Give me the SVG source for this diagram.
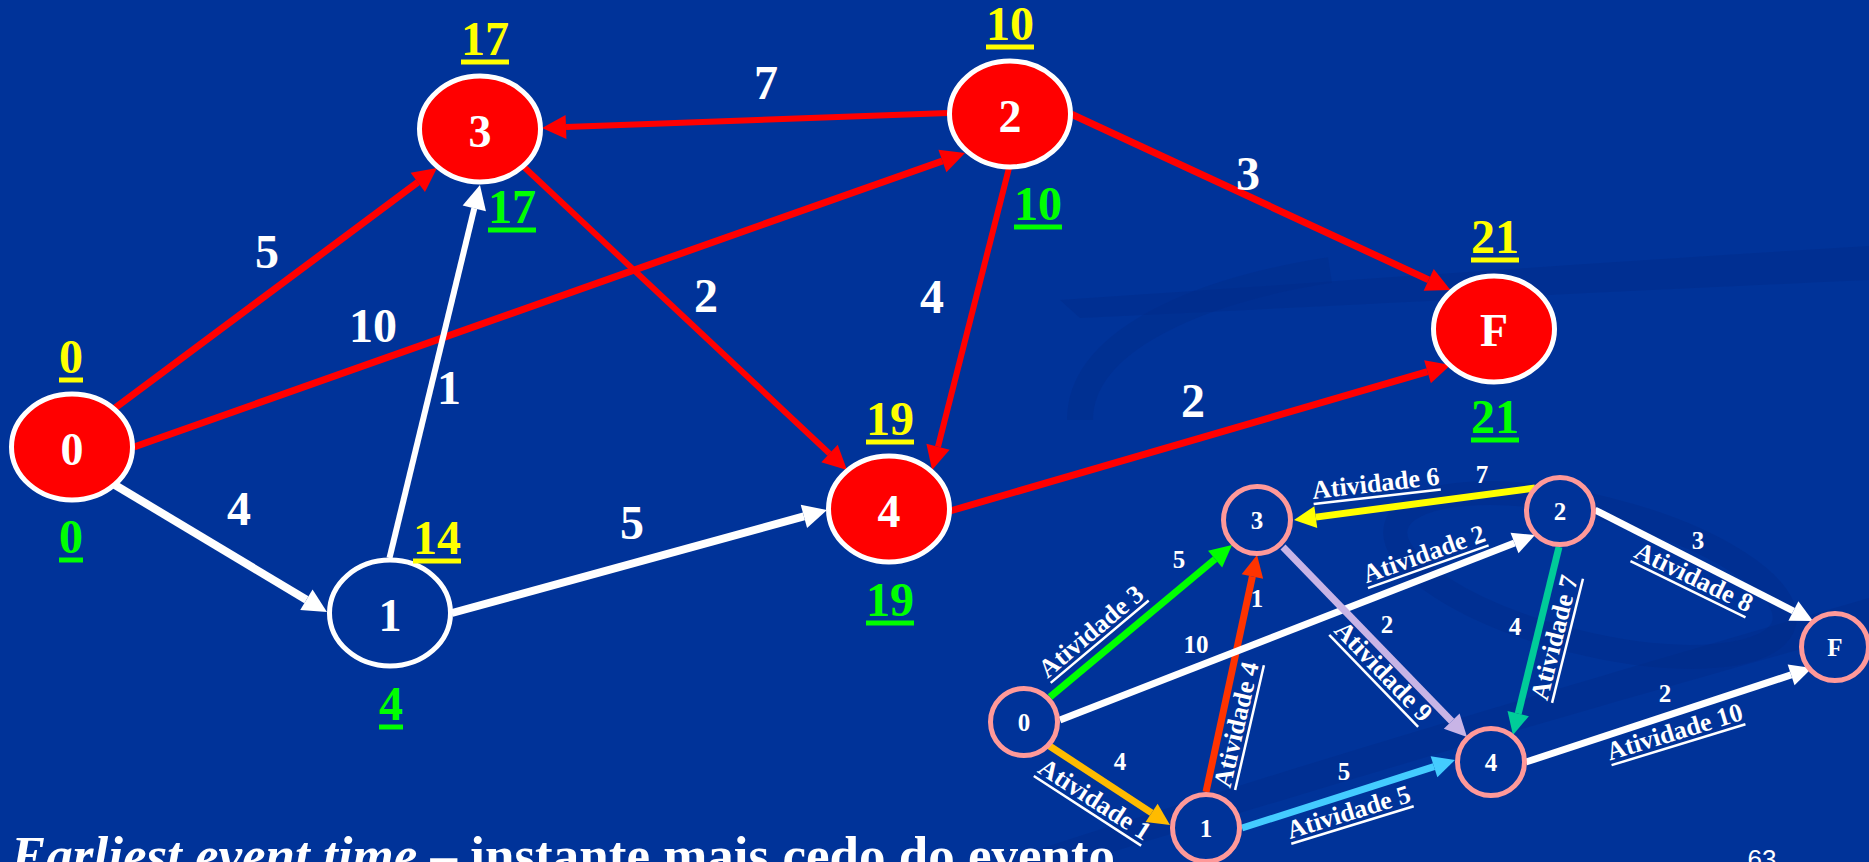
<svg xmlns="http://www.w3.org/2000/svg" width="1869" height="862" viewBox="0 0 1869 862">
<defs>
<style>
.t{font-family:"Liberation Serif","Times New Roman",serif;font-weight:bold;text-anchor:middle}
.big{font-size:48px}
.nl{font-size:46px;fill:#FFFFFF}
.el{font-size:48px;fill:#FFFFFF}
.yl{fill:#FFFF00}
.gl{fill:#00FF00}
.uy{stroke:#FFFF00;stroke-width:5}
.ug{stroke:#00FF00;stroke-width:5}
.nred{fill:#FF0000;stroke:#FFFFFF;stroke-width:5}
.nblue{fill:#003399;stroke:#FFFFFF;stroke-width:5}
.sn{fill:#003399;stroke:#FF9999;stroke-width:5}
.sl{font-size:25px;fill:#FFFFFF}
.act{font-size:26px;fill:#FFFFFF}
.au{stroke:#FFFFFF;stroke-width:2.5}
.e{fill:none}
.swoosh{fill:#002B86;opacity:0.4}
</style>
<marker id="mRed" markerUnits="userSpaceOnUse" viewBox="0 -14 28 28" markerWidth="28" markerHeight="28" refX="0" refY="0" orient="auto" overflow="visible"><path d="M0,-12 L24,0 L0,12 Z" fill="#FF0000"/></marker>
<marker id="mWhite" markerUnits="userSpaceOnUse" viewBox="0 -14 28 28" markerWidth="28" markerHeight="28" refX="0" refY="0" orient="auto" overflow="visible"><path d="M0,-12 L24,0 L0,12 Z" fill="#FFFFFF"/></marker>
<marker id="sGreen" markerUnits="userSpaceOnUse" viewBox="0 -13 26 26" markerWidth="26" markerHeight="26" refX="0" refY="0" orient="auto" overflow="visible"><path d="M0,-11 L22,0 L0,11 Z" fill="#00FF00"/></marker>
<marker id="sOrange" markerUnits="userSpaceOnUse" viewBox="0 -13 26 26" markerWidth="26" markerHeight="26" refX="0" refY="0" orient="auto" overflow="visible"><path d="M0,-11 L22,0 L0,11 Z" fill="#FFBB00"/></marker>
<marker id="sRed" markerUnits="userSpaceOnUse" viewBox="0 -13 26 26" markerWidth="26" markerHeight="26" refX="0" refY="0" orient="auto" overflow="visible"><path d="M0,-11 L22,0 L0,11 Z" fill="#FF3300"/></marker>
<marker id="sWhite" markerUnits="userSpaceOnUse" viewBox="0 -13 26 26" markerWidth="26" markerHeight="26" refX="0" refY="0" orient="auto" overflow="visible"><path d="M0,-11 L22,0 L0,11 Z" fill="#FFFFFF"/></marker>
<marker id="sYellow" markerUnits="userSpaceOnUse" viewBox="0 -13 26 26" markerWidth="26" markerHeight="26" refX="0" refY="0" orient="auto" overflow="visible"><path d="M0,-11 L22,0 L0,11 Z" fill="#FFFF00"/></marker>
<marker id="sLav" markerUnits="userSpaceOnUse" viewBox="0 -13 26 26" markerWidth="26" markerHeight="26" refX="0" refY="0" orient="auto" overflow="visible"><path d="M0,-11 L22,0 L0,11 Z" fill="#C8B4E6"/></marker>
<marker id="sTeal" markerUnits="userSpaceOnUse" viewBox="0 -13 26 26" markerWidth="26" markerHeight="26" refX="0" refY="0" orient="auto" overflow="visible"><path d="M0,-11 L22,0 L0,11 Z" fill="#00CC99"/></marker>
<marker id="sCyan" markerUnits="userSpaceOnUse" viewBox="0 -13 26 26" markerWidth="26" markerHeight="26" refX="0" refY="0" orient="auto" overflow="visible"><path d="M0,-11 L22,0 L0,11 Z" fill="#44CCFF"/></marker>
</defs>

<rect x="0" y="0" width="1869" height="862" fill="#003399"/>

<g id="background-swooshes">
<path class="swoosh" d="M1060 300 C1300 284 1600 262 1869 246 L1869 280 C1600 292 1330 306 1080 318 Z"/>
<path class="swoosh" d="M1000 862 C1250 780 1550 690 1869 598 L1869 630 C1560 716 1280 800 1080 862 Z"/>
<ellipse cx="1590" cy="575" rx="200" ry="68" transform="rotate(14 1590 575)" fill="none" stroke="#002B86" stroke-width="24" opacity="0.4"/>
<path d="M1080 420 C1080 340 1200 290 1330 270" fill="none" stroke="#002B86" stroke-width="26" opacity="0.35"/>
</g>

<g id="connectors">
<line class="e" x1="115" y1="408" x2="417.8" y2="182.3" stroke="#FF0000" stroke-width="7" marker-end="url(#mRed)"/>
<line class="e" x1="134" y1="447" x2="942.4" y2="161" stroke="#FF0000" stroke-width="7" marker-end="url(#mRed)"/>
<line class="e" x1="115" y1="485" x2="306.4" y2="599.7" stroke="#FFFFFF" stroke-width="8" marker-end="url(#mWhite)"/>
<line class="e" x1="389.5" y1="558" x2="474.3" y2="208.3" stroke="#FFFFFF" stroke-width="6" marker-end="url(#mWhite)"/>
<line class="e" x1="452" y1="613" x2="803.9" y2="516.4" stroke="#FFFFFF" stroke-width="8" marker-end="url(#mWhite)"/>
<line class="e" x1="948" y1="113" x2="566" y2="127.1" stroke="#FF0000" stroke-width="6" marker-end="url(#mRed)"/>
<line class="e" x1="524" y1="167" x2="829.5" y2="453.6" stroke="#FF0000" stroke-width="6" marker-end="url(#mRed)"/>
<line class="e" x1="1009" y1="168" x2="938" y2="446.8" stroke="#FF0000" stroke-width="6" marker-end="url(#mRed)"/>
<line class="e" x1="1071" y1="114" x2="1428.7" y2="279.9" stroke="#FF0000" stroke-width="7" marker-end="url(#mRed)"/>
<line class="e" x1="950" y1="511" x2="1427.5" y2="371.7" stroke="#FF0000" stroke-width="7" marker-end="url(#mRed)"/>

<text class="t el" x="267" y="268">5</text>
<text class="t el" x="373" y="342">10</text>
<text class="t el" x="449" y="404">1</text>
<text class="t el" x="239" y="525">4</text>
<text class="t el" x="632" y="539">5</text>
<text class="t el" x="766" y="99">7</text>
<text class="t el" x="706" y="312">2</text>
<text class="t el" x="932" y="313">4</text>
<text class="t el" x="1248" y="190">3</text>
<text class="t el" x="1193" y="417">2</text>

<line class="e" x1="1050" y1="697" x2="1215.1" y2="559.1" stroke="#00FF00" stroke-width="7" marker-end="url(#sGreen)"/>
<line class="e" x1="1048" y1="745" x2="1151.6" y2="812.9" stroke="#FFBB00" stroke-width="7" marker-end="url(#sOrange)"/>
<line class="e" x1="1206" y1="792" x2="1252.4" y2="576.5" stroke="#FF3300" stroke-width="7" marker-end="url(#sRed)"/>
<line class="e" x1="1060" y1="720" x2="1514.5" y2="543" stroke="#FFFFFF" stroke-width="7" marker-end="url(#sWhite)"/>
<line class="e" x1="1535" y1="488" x2="1315.8" y2="517.1" stroke="#FFFF00" stroke-width="7" marker-end="url(#sYellow)"/>
<line class="e" x1="1283" y1="547" x2="1451.7" y2="721.2" stroke="#C8B4E6" stroke-width="7" marker-end="url(#sLav)"/>
<line class="e" x1="1559" y1="547" x2="1518.2" y2="713.6" stroke="#00CC99" stroke-width="7" marker-end="url(#sTeal)"/>
<line class="e" x1="1242" y1="828" x2="1434" y2="766.7" stroke="#44CCFF" stroke-width="7" marker-end="url(#sCyan)"/>
<line class="e" x1="1595" y1="510" x2="1793.4" y2="611" stroke="#FFFFFF" stroke-width="7" marker-end="url(#sWhite)"/>
<line class="e" x1="1526" y1="762" x2="1791.1" y2="674.9" stroke="#FFFFFF" stroke-width="7" marker-end="url(#sWhite)"/>

<text class="t sl" x="1179" y="568">5</text>
<text class="t sl" x="1196" y="653">10</text>
<text class="t sl" x="1120" y="770">4</text>
<text class="t sl" x="1257" y="607">1</text>
<text class="t sl" x="1344" y="780">5</text>
<text class="t sl" x="1482" y="483">7</text>
<text class="t sl" x="1387" y="633">2</text>
<text class="t sl" x="1515" y="635">4</text>
<text class="t sl" x="1698" y="549">3</text>
<text class="t sl" x="1665" y="702">2</text>

<g transform="translate(1099.7 641.7) rotate(-40)"><text class="t act" x="0" y="-5">Atividade 3</text><line class="au" x1="-64" y1="0" x2="64" y2="0"/></g>
<g transform="translate(1087.5 810.8) rotate(33)"><text class="t act" x="0" y="-5">Atividade 1</text><line class="au" x1="-64" y1="0" x2="64" y2="0"/></g>
<g transform="translate(1249.5 727.7) rotate(-77)"><text class="t act" x="0" y="-5">Atividade 4</text><line class="au" x1="-64" y1="0" x2="64" y2="0"/></g>
<g transform="translate(1352.5 825) rotate(-17)"><text class="t act" x="0" y="-5">Atividade 5</text><line class="au" x1="-64" y1="0" x2="64" y2="0"/></g>
<g transform="translate(1377.2 496.7) rotate(-6.5)"><text class="t act" x="0" y="-5">Atividade 6</text><line class="au" x1="-64" y1="0" x2="64" y2="0"/></g>
<g transform="translate(1428.3 566.7) rotate(-19.5)"><text class="t act" x="0" y="-5">Atividade 2</text><line class="au" x1="-64" y1="0" x2="64" y2="0"/></g>
<g transform="translate(1373.7 680.8) rotate(46)"><text class="t act" x="0" y="-5">Atividade 9</text><line class="au" x1="-64" y1="0" x2="64" y2="0"/></g>
<g transform="translate(1567.5 640.8) rotate(-76)"><text class="t act" x="0" y="-5">Atividade 7</text><line class="au" x1="-64" y1="0" x2="64" y2="0"/></g>
<g transform="translate(1688 589.2) rotate(26)"><text class="t act" x="0" y="-5">Atividade 8</text><line class="au" x1="-64" y1="0" x2="64" y2="0"/></g>
<g transform="translate(1678.5 744.7) rotate(-17)"><text class="t act" x="0" y="-5">Atividade 10</text><line class="au" x1="-70" y1="0" x2="70" y2="0"/></g>
</g>

<g id="node-0">
<ellipse class="nred" cx="72" cy="447" rx="60.5" ry="53"/>
<text class="t nl" x="72" y="465">0</text>
<text class="t big yl" x="71" y="373">0</text><line class="uy" x1="59" y1="380" x2="83" y2="380"/>
<text class="t big gl" x="71" y="553">0</text><line class="ug" x1="59" y1="560" x2="83" y2="560"/>
</g>
<g id="node-1">
<ellipse class="nblue" cx="390" cy="613" rx="60.5" ry="53"/>
<text class="t nl" x="390" y="631" font-weight="normal">1</text>
<text class="t big yl" x="437" y="554">14</text><line class="uy" x1="413" y1="561" x2="461" y2="561"/>
<text class="t big gl" x="391" y="720">4</text><line class="ug" x1="379" y1="727" x2="403" y2="727"/>
</g>
<g id="node-3">
<ellipse class="nred" cx="480" cy="129" rx="60.5" ry="53"/>
<text class="t nl" x="480" y="147">3</text>
<text class="t big yl" x="485" y="55">17</text><line class="uy" x1="461" y1="62" x2="509" y2="62"/>
<text class="t big gl" x="512" y="223">17</text><line class="ug" x1="488" y1="230" x2="536" y2="230"/>
</g>
<g id="node-2">
<ellipse class="nred" cx="1010" cy="114" rx="60.5" ry="53"/>
<text class="t nl" x="1010" y="132">2</text>
<text class="t big yl" x="1010" y="40">10</text><line class="uy" x1="986" y1="47" x2="1034" y2="47"/>
<text class="t big gl" x="1038" y="220">10</text><line class="ug" x1="1014" y1="227" x2="1062" y2="227"/>
</g>
<g id="node-4">
<ellipse class="nred" cx="889" cy="509" rx="60.5" ry="53"/>
<text class="t nl" x="889" y="527">4</text>
<text class="t big yl" x="890" y="435">19</text><line class="uy" x1="866" y1="442" x2="914" y2="442"/>
<text class="t big gl" x="890" y="616">19</text><line class="ug" x1="866" y1="623" x2="914" y2="623"/>
</g>
<g id="node-F">
<ellipse class="nred" cx="1494" cy="329" rx="60.5" ry="53"/>
<text class="t nl" x="1494" y="346">F</text>
<text class="t big yl" x="1495" y="253">21</text><line class="uy" x1="1471" y1="260" x2="1519" y2="260"/>
<text class="t big gl" x="1495" y="433">21</text><line class="ug" x1="1471" y1="440" x2="1519" y2="440"/>
</g>

<g id="small-node-0"><circle class="sn" cx="1024" cy="722" r="33.5"/><text class="t sl" x="1024" y="731">0</text></g>
<g id="small-node-1"><circle class="sn" cx="1206" cy="828" r="33.5"/><text class="t sl" x="1206" y="837">1</text></g>
<g id="small-node-3"><circle class="sn" cx="1257" cy="520" r="33.5"/><text class="t sl" x="1257" y="529">3</text></g>
<g id="small-node-2"><circle class="sn" cx="1560" cy="511" r="33.5"/><text class="t sl" x="1560" y="520">2</text></g>
<g id="small-node-4"><circle class="sn" cx="1491" cy="762" r="33.5"/><text class="t sl" x="1491" y="771">4</text></g>
<g id="small-node-F"><circle class="sn" cx="1835" cy="647" r="33.5"/><text class="t sl" x="1835" y="656">F</text></g>

<text x="11" y="873" font-family="Liberation Serif, Times New Roman, serif" font-weight="bold" font-size="53" fill="#FFFFFF"><tspan font-style="italic">Earliest event time</tspan> – instante mais cedo do evento</text>
<text x="1762" y="868" font-family="Liberation Sans, Arial, sans-serif" font-size="26" fill="#FFFFFF" text-anchor="middle">63</text>
</svg>
